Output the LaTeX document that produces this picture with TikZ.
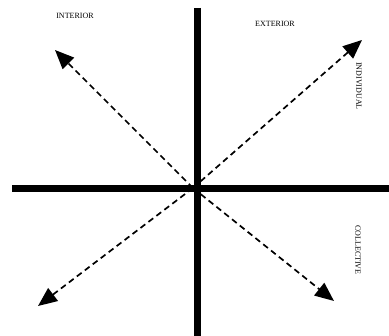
\documentclass[tikz,border=0pt]{standalone}
\usepackage{fontspec}
\setmainfont{Liberation Serif}
\usetikzlibrary{arrows.meta,positioning}

\begin{document}
\begin{tikzpicture}[
			x=1pt, y=-1pt,
			axis/.style={line width=7pt},
			diag/.style={-{Triangle[length=19pt,width=16pt]}, line width=1.7pt, dash pattern=on 6pt off 4pt},
			label/.style={font=\fontsize{8}{9}\selectfont, inner sep=0pt}
			]
			\useasboundingbox (0,0) rectangle (389,336);
			% axes
			\coordinate (top) at (197,8);
			\coordinate (bottom) at (197,336);
			\coordinate (left) at (12,189);
			\coordinate (right) at (389,189);
			\draw[axis] (top)--(bottom);
			\draw[axis] (left)--(right);
			% diagonals
			\coordinate (o) at (193,188);
			\coordinate (ul) at (55,50);
			\coordinate (ur) at (362,40);
			\coordinate (lr) at (334,301);
			\coordinate (ll) at (38,306);
			\draw[diag] (o)--(ul);
			\draw[diag] (o)--(ur);
			\draw[diag] (o)--(lr);
			\draw[diag] (o)--(ll);
			% labels
			\node[label] (interior) at (75,16) {INTERIOR};
			\node[label] (exterior) at (275,24) {EXTERIOR};
			\node[label, rotate=-90] (individual) at (359,86) {INDIVIDUAL};
			\node[label, rotate=-90] (collective) at (358,250) {COLLECTIVE};
		\end{tikzpicture}
\end{document}
